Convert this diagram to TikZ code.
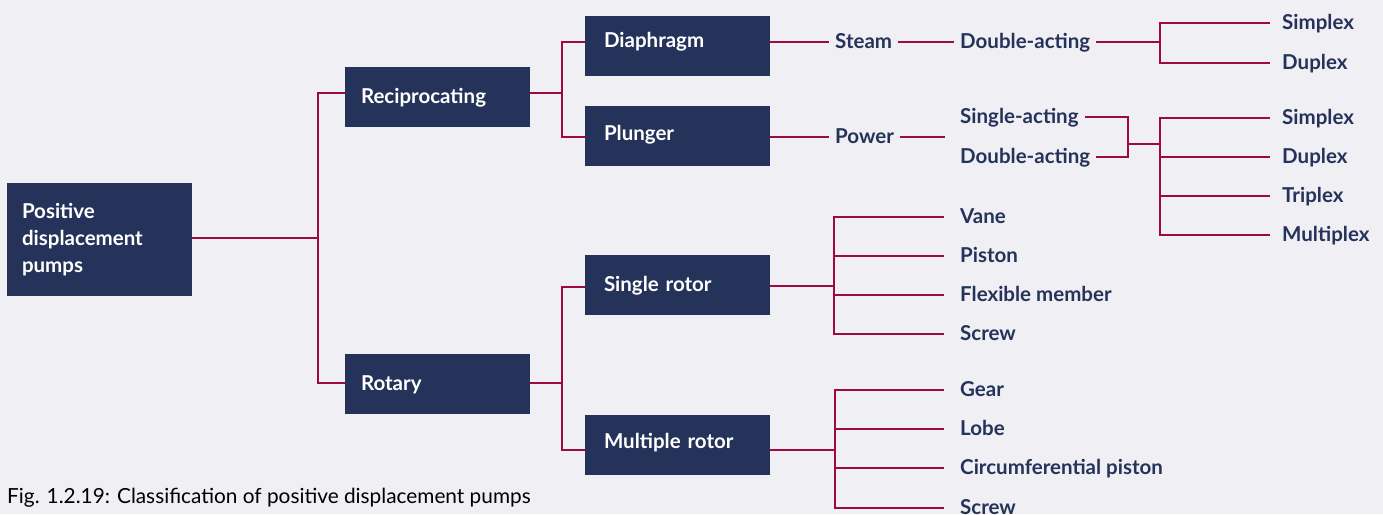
\documentclass[tikz,border=0pt]{standalone}
\usepackage{fontspec}
\setmainfont{Lato}
\definecolor{bg}{HTML}{EFEFF4}
\definecolor{navy}{HTML}{25335A}
\definecolor{crim}{HTML}{9E0A3C}
\begin{document}
\begin{tikzpicture}[x=1pt,y=-1pt,
  box/.style={fill=navy,text=white,font=\fontsize{20.5}{27}\selectfont\bfseries,
    minimum width=185pt,minimum height=60pt,align=left,inner ysep=0pt,
    text height=17pt,text depth=4pt},
  lbl/.style={text=navy,font=\fontsize{20.5}{23}\selectfont\bfseries,anchor=west,
    inner xsep=6pt,inner ysep=0pt,text height=17pt,text depth=4pt},
  conn/.style={draw=crim,line width=2.9pt},
  leaf/.style={conn,shorten <=10pt,shorten >=10pt},
  leafr/.style={conn,shorten <=6pt,shorten >=6pt}]
\fill[bg] (0,0) rectangle (1383,514);
\clip (0,0) rectangle (1383,514);
% boxes
\node[fill=navy,text=white,font=\fontsize{20.5}{27}\selectfont\bfseries,
  minimum width=185pt,minimum height=113pt,align=left,text width=155pt,inner xsep=15pt,inner ysep=0pt] (pdp) at (99.5,239.5) {Positive\\displacement\\pumps};
\node[box,text width=153pt,inner xsep=16pt] (rec) at (437.5,97) {Reciprocating};
\node[box,text width=153pt,inner xsep=16pt] (rot) at (437.5,384) {Rotary};
\node[box,text width=147pt,inner xsep=19pt] (dia) at (677.5,46) {\raisebox{5pt}{Diaphragm}};
\node[box,text width=147pt,inner xsep=19pt] (plu) at (677.5,136) {\raisebox{2.5pt}{Plunger}};
\node[box,text width=147pt,inner xsep=19pt] (sro) at (677.5,285) {Single rotor};
\node[box,text width=147pt,inner xsep=19pt] (mro) at (677.5,445) {\raisebox{3pt}{Multiple rotor}};
% labels
\node[lbl] (steam) at (829,42) {Steam};
\node[lbl] (dbl1) at (954,42) {Double-acting};
\node[lbl] (pow) at (829,137) {Power};
\node[lbl] (sa) at (954,117) {Single-acting};
\node[lbl] (da) at (954,157) {Double-acting};
\node[lbl] (sim1) at (1276,23) {Simplex};
\node[lbl] (dup1) at (1276,63) {Duplex};
\node[lbl] (sim2) at (1276,118) {Simplex};
\node[lbl] (dup2) at (1276,157) {Duplex};
\node[lbl] (tri) at (1276,196) {Triplex};
\node[lbl] (mul) at (1276,235) {Multiplex};
\node[lbl] (vane) at (954,217) {Vane};
\node[lbl] (pis) at (954,256) {Piston};
\node[lbl] (flex) at (954,295) {Flexible member};
\node[lbl] (scr1) at (954,334) {Screw};
\node[lbl] (gear) at (954,390) {Gear};
\node[lbl] (lobe) at (954,429) {Lobe};
\node[lbl] (circ) at (954,468) {Circumferential piston};
\node[lbl] (scr2) at (954,508) {Screw};
\node[anchor=base west,inner sep=0pt,font=\fontsize{20.8}{23}\selectfont,text=black] (cap) at (7,503) {Fig. 1.2.19: Classification of positive displacement pumps};
% junctions
\coordinate (j1) at (318,238);
\coordinate (j2) at (562,93);
\coordinate (j8) at (562,383);
\coordinate (j3) at (1160,42);
\coordinate (j4) at (1128,144);
\coordinate (j5) at (1160,144);
\coordinate (pe) at (945,137);
\coordinate (j6) at (834,286);
\coordinate (j7) at (835,450);
% connectors
\draw[conn] (pdp.east |- j1) -- (j1);
\draw[conn] ([yshift=4pt]rec.west) -| (j1) |- ([yshift=1pt]rot.west);
\draw[conn] (rec.east |- j2) -- (j2);
\draw[conn] ([yshift=4pt]dia.west) -| (j2) |- ([yshift=-1pt]plu.west);
\draw[conn] (rot.east |- j8) -- (j8);
\draw[conn] ([yshift=-2pt]sro.west) -| (j8) |- ([yshift=-5pt]mro.west);
\draw[conn] (dia.east |- steam.west) -- (steam.west);
\draw[conn] (steam.east) -- (dbl1.west);
\draw[conn] (dbl1.east) -- (j3);
\draw[leafr] (sim1.west) -| (j3) |- (dup1.west);
\draw[conn] (plu.east |- pow.west) -- (pow.west);
\draw[conn] (pow.east) -- (pe);
\draw[conn] (sa.east) -| (j4) |- (da.east);
\draw[conn] (j4) -- (j5);
\draw[leafr] (sim2.west) -| (j5) |- (mul.west);
\draw[conn,shorten >=6pt] (j5 |- dup2.west) -- (dup2.west);
\draw[conn,shorten >=6pt] (j5 |- tri.west) -- (tri.west);
\draw[conn] (sro.east |- j6) -- (j6);
\draw[leaf] (vane.west) -| (j6) |- (scr1.west);
\draw[conn,shorten >=10pt] (j6 |- pis.west) -- (pis.west);
\draw[conn,shorten >=10pt] (j6 |- flex.west) -- (flex.west);
\draw[conn] (mro.east |- j7) -- (j7);
\draw[leaf] (gear.west) -| (j7) |- (scr2.west);
\draw[conn,shorten >=10pt] (j7 |- lobe.west) -- (lobe.west);
\draw[conn,shorten >=10pt] (j7 |- circ.west) -- (circ.west);
\end{tikzpicture}
\end{document}
